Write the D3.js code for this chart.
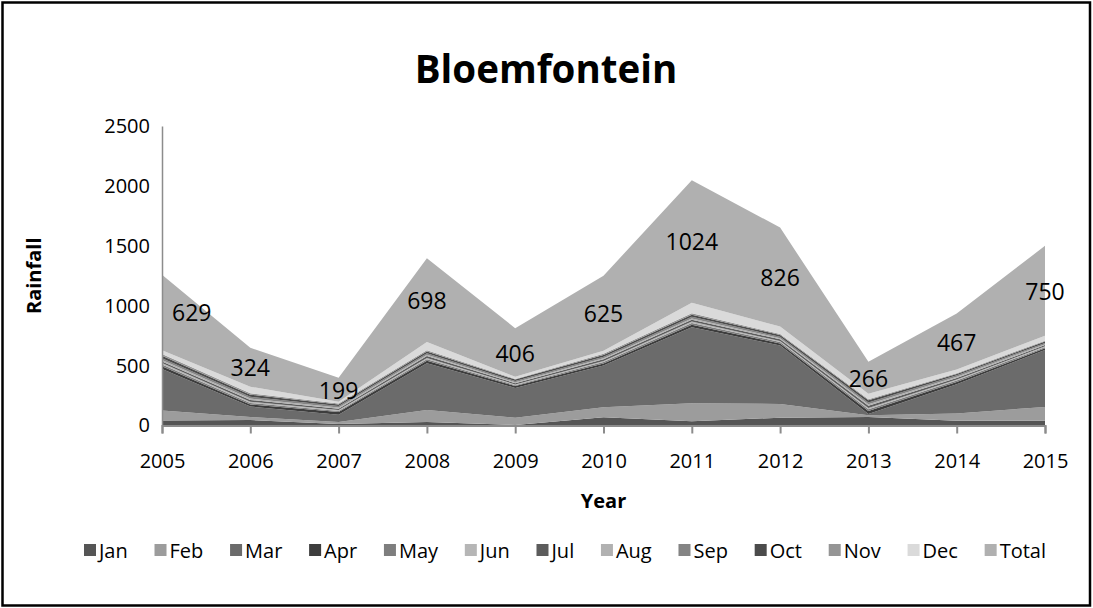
<!DOCTYPE html>
<html><head><meta charset="utf-8">
<script src="https://cdn.jsdelivr.net/npm/d3@7"></script>
<style>body{margin:0;background:#fff}svg{display:block}text{font-family:"Open Sans",sans-serif}</style>
</head><body><svg id="c" width="1093" height="608"></svg>
<script>
const years = [2005,2006,2007,2008,2009,2010,2011,2012,2013,2014,2015];
const seriesNames = ["Jan","Feb","Mar","Apr","May","Jun","Jul","Aug","Sep","Oct","Nov","Dec","Total"];
const jan = [42,45,12,30,5,69,35,65,70,40,40];
const feb = [83,25,18,100,60,84,150,115,15,60,115];
const mar = [347,88,60,390,249,347,635,487,10,245,475];
const apr = [22,18,22,20,15,18,22,18,25,18,14];
const may = [15,12,10,14,8,12,14,12,15,12,10];
const jun = [12,10,8,10,6,8,12,8,12,8,7];
const jul = [14,15,10,16,10,14,14,14,18,14,10];
const aug = [12,12,10,10,8,10,12,10,12,10,8];
const sep = [15,14,12,14,10,12,14,12,15,12,10];
const oct = [20,18,14,14,12,14,16,15,18,10,12];
const nov = [14,12,7,10,6,10,12,8,10,8,7];
const dec = [33,55,16,70,17,27,88,62,46,30,42];
const total = [629,324,199,698,406,625,1024,826,266,467,750];
const yTicks = [0,500,1000,1500,2000,2500];
const colors = ["#555555","#9c9c9c","#6b6b6b","#3d3d3d","#7e7e7e","#b6b6b6","#5c5c5c","#b1b1b1","#848484","#4b4b4b","#959595","#dadada","#b0b0b0"];

const seriesVals = [jan,feb,mar,apr,may,jun,jul,aug,sep,oct,nov,dec,total];
const rows = years.map((y,i)=>{const r={year:y}; seriesNames.forEach((n,k)=>r[n]=seriesVals[k][i]); return r;});

const svg = d3.select("#c");
const W=1093,H=608;
svg.append("rect").attr("x",2.5).attr("y",2.5).attr("width",W-5.5).attr("height",H-5).attr("fill","#fff").attr("stroke","#000").attr("stroke-width",2.5);

const L=162,R=1045,T=126,B=425.5;
const x = d3.scalePoint().domain(years).range([L,R]);
const y = d3.scaleLinear().domain([0,2500]).range([B,T]);

const stacked = d3.stack().keys(seriesNames)(rows);
const area = d3.area().x(d=>x(d.data.year)).y0(d=>y(d[0])).y1(d=>y(d[1]));
svg.append("g").selectAll("path").data(stacked).join("path")
  .attr("d",area).attr("fill",(d,i)=>colors[i]);

// axes
const yAx = svg.append("g").attr("transform",`translate(${L},0)`)
  .call(d3.axisLeft(y).tickValues(yTicks).tickSize(0).tickPadding(12).tickFormat(d3.format("d")));
yAx.select(".domain").attr("stroke","#8c8c8c").attr("stroke-width",1.5);
yAx.selectAll("text").attr("font-size",20).attr("fill","#000").attr("font-family","Open Sans");

const xAx = svg.append("g").attr("transform",`translate(0,${B})`)
  .call(d3.axisBottom(x).tickSize(8).tickPadding(20).tickFormat(d3.format("d")));
xAx.select(".domain").attr("stroke","#8c8c8c").attr("stroke-width",2);
xAx.selectAll(".tick line").attr("stroke","#8c8c8c").attr("stroke-width",2);
xAx.selectAll("text").attr("font-size",20).attr("fill","#000").attr("font-family","Open Sans");

// data labels on Total layer
const topLayer = stacked[stacked.length-1];
const lbl = svg.append("g");
topLayer.forEach((d,i)=>{
  const t = lbl.append("text").text(total[i]).attr("font-size",23).attr("fill","#000")
    .attr("text-anchor","middle").attr("dominant-baseline","central");
  const w = t.node().getComputedTextLength();
  const cx = Math.max(x(d.data.year), L + w/2 + 10);
  t.attr("x",cx).attr("y",y((d[0]+d[1])/2));
});

// titles
svg.append("text").text("Bloemfontein").attr("x",546).attr("y",68).attr("text-anchor","middle")
  .attr("dominant-baseline","central").attr("font-size",38.5).attr("font-weight","bold");
svg.append("text").text("Year").attr("x",(L+R)/2).attr("y",500).attr("text-anchor","middle")
  .attr("dominant-baseline","central").attr("font-size",20).attr("font-weight","bold");
svg.append("text").text("Rainfall").attr("transform",`translate(33,${(T+B)/2}) rotate(-90)`)
  .attr("text-anchor","middle").attr("dominant-baseline","central").attr("font-size",20).attr("font-weight","bold");

// legend
const lg = svg.append("g");
const groups=[], widths=[];
seriesNames.forEach((n,i)=>{
  const g = lg.append("g");
  g.append("rect").attr("x",0).attr("y",-6).attr("width",12).attr("height",12).attr("fill",colors[i]);
  const t=g.append("text").text(n).attr("x",15).attr("y",0).attr("dominant-baseline","central").attr("font-size",20);
  groups.push(g); widths.push(15 + t.node().getComputedTextLength());
});
const legL=84, legR=1046;
const gap = (legR-legL - d3.sum(widths))/(widths.length-1);
let cx=legL;
groups.forEach((g,i)=>{ g.attr("transform",`translate(${cx},550)`); cx += widths[i]+gap; });
</script></body></html>
